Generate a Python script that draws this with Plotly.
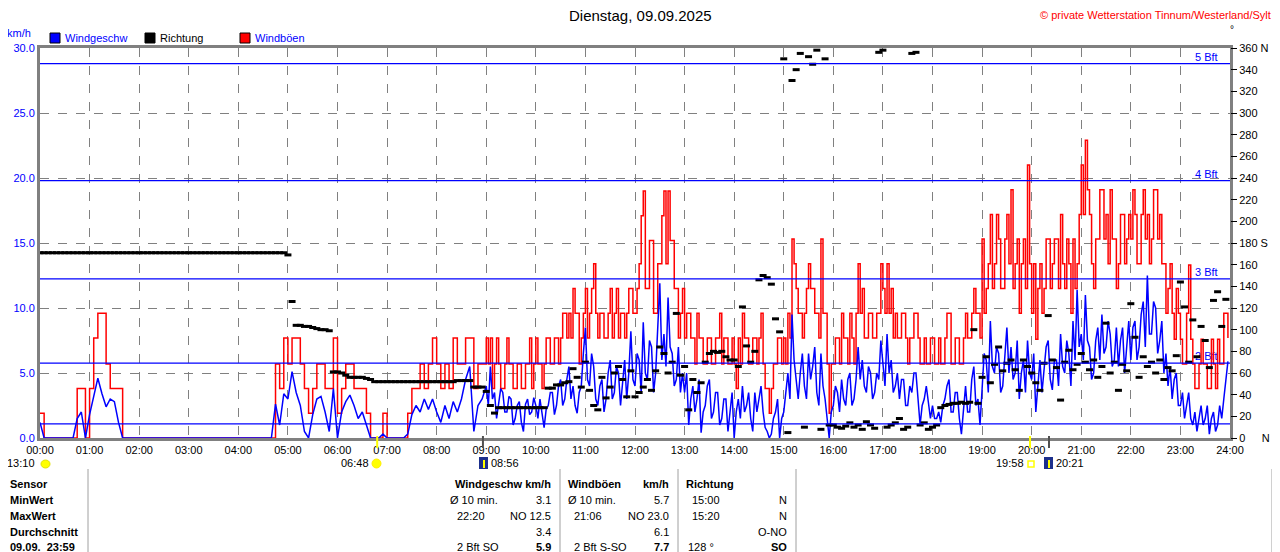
import numpy as np
import plotly.graph_objects as go

# 00:00 - 08:55, 5-minute values, one line per hour
wind_early = [
    1.2, 0, 0, 0, 0, 0, 0, 0, 0, 1.5, 2.0, 0,
    1.8, 3.2, 4.6, 3.4, 2.4, 3.0, 2.8, 1.2, 0, 0, 0, 0,
    0, 0, 0, 0, 0, 0, 0, 0, 0, 0, 0, 0,
    0, 0, 0, 0, 0, 0, 0, 0, 0, 0, 0, 0,
    0, 0, 0, 0, 0, 0, 0, 0, 0, 2.6, 1.0, 3.4,
    3.0, 5.1, 3.5, 2.5, 0.5, 0, 1.8, 3.0, 3.2, 2.0, 0.5, 3.8,
    0, 2.0, 2.8, 3.3, 2.5, 1.5, 2.0, 1.0, 0, 0, 0, 0.3,
    0, 0, 0, 0, 0, 0.3, 1.8, 2.5, 2.0, 3.0, 2.2, 3.0,
    2.0, 1.2, 2.5, 1.5, 2.8, 2.0, 3.0, 4.5, 5.5, 0.5, 2.5, 3.0,
]
gust_early = [
    1.9, 0, 0, 0, 0, 0, 0, 0, 0, 3.8, 3.8, 0,
    3.8, 7.7, 9.6, 9.6, 5.7, 3.8, 3.8, 3.8, 0, 0, 0, 0,
    0, 0, 0, 0, 0, 0, 0, 0, 0, 0, 0, 0,
    0, 0, 0, 0, 0, 0, 0, 0, 0, 0, 0, 0,
    0, 0, 0, 0, 0, 0, 0, 0, 0, 5.7, 3.8, 7.7,
    5.7, 7.7, 7.7, 5.7, 3.8, 1.9, 3.8, 5.7, 5.7, 3.8, 3.8, 7.7,
    1.9, 3.8, 5.7, 5.7, 3.8, 3.8, 3.8, 1.9, 0, 0, 0, 1.9,
    0, 0, 0, 0, 0, 1.9, 3.8, 3.8, 5.7, 3.8, 5.7, 7.7,
    5.7, 3.8, 5.7, 3.8, 7.7, 5.7, 5.7, 7.7, 7.7, 3.8, 5.7, 5.7,
]

# 09:00 - 23:57.5, 2.5-minute values, one line per hour
wind_late = [
    4.0, 2.5, 5.5, 3.0, 3.5, 1.5, 2.5, 3.8, 3.5, 2.0, 2.0, 3.2, 3.0, 1.0, 1.5, 2.5, 2.8, 1.2, 0.5, 2.6, 3.0, 1.8, 2.0, 3.1,
    2.5, 1.5, 3.0, 2.0, 0.8, 2.2, 2.5, 3.5, 3.5, 1.8, 2.5, 4.0, 4.5, 2.5, 3.0, 4.5, 5.5, 3.0, 4.0, 2.5, 1.9, 3.5, 4.0, 6.5,
    8.5, 4.5, 4.0, 6.5, 5.5, 3.0, 2.5, 4.0, 4.5, 2.0, 3.0, 5.0, 6.0, 3.0, 3.5, 5.5, 5.0, 2.5, 4.0, 6.0, 3.0, 5.0, 8.2, 4.5,
    4.0, 6.5, 6.0, 3.5, 8.9, 5.0, 4.5, 7.5, 7.0, 3.5, 5.0, 8.0, 11.9, 6.0, 8.0, 5.5, 10.8, 7.0, 6.5, 4.0, 4.5, 7.0, 3.5, 5.0,
    3.5, 5.0, 1.0, 3.0, 4.0, 2.0, 3.0, 4.5, 0.4, 2.0, 2.5, 4.0, 4.5, 1.5, 2.0, 3.5, 3.5, 1.0, 1.5, 3.0, 3.0, 0.5, 2.0, 3.5,
    0, 2.0, 3.0, 1.5, 4.0, 2.0, 2.5, 3.5, 1.5, 0.5, 3.5, 2.0, 3.0, 4.0, 2.0, 0.8, 0.5, 0, 0.3, 1.5, 2.0, 3.0, 0, 1.5,
    2.0, 3.5, 5.0, 3.0, 9.5, 6.0, 4.5, 3.0, 5.0, 6.5, 4.0, 3.0, 6.5, 4.5, 5.5, 7.0, 3.5, 2.5, 6.5, 4.0, 3.0, 1.5, 0, 2.0,
    2.5, 4.0, 3.5, 2.0, 4.5, 3.0, 2.5, 4.5, 5.0, 2.5, 3.0, 4.5, 7.0, 4.5, 6.0, 4.0, 3.5, 5.5, 5.0, 3.0, 3.5, 5.0, 4.5, 7.5,
    5.5, 4.0, 8.0, 5.0, 6.0, 3.5, 4.0, 5.0, 3.0, 4.5, 4.5, 2.5, 2.5, 4.0, 3.5, 5.0, 5.0, 3.0, 1.0, 2.5, 3.0, 4.0, 2.5, 1.5,
    2.5, 1.5, 1.5, 2.0, 1.2, 2.5, 3.0, 4.0, 4.5, 2.0, 2.0, 3.5, 3.5, 1.5, 0.3, 2.5, 4.0, 2.0, 2.0, 4.5, 5.5, 2.5, 3.0, 1.0,
    4.0, 6.5, 6.0, 3.5, 9.0, 5.5, 5.0, 7.0, 6.5, 3.5, 4.0, 6.0, 8.5, 5.0, 7.0, 4.5, 5.0, 7.5, 3.0, 5.0, 6.0, 3.5, 7.5, 5.0,
    4.5, 6.5, 2.0, 4.0, 6.0, 3.5, 5.0, 7.0, 7.5, 4.5, 3.7, 6.0, 6.0, 4.0, 8.0, 5.5, 5.0, 7.5, 6.5, 4.0, 9.0, 6.0, 11.4, 7.0,
    8.0, 6.0, 11.0, 7.5, 7.0, 4.5, 5.0, 7.5, 8.5, 6.0, 9.5, 6.5, 7.0, 9.0, 8.0, 5.5, 6.0, 8.5, 5.5, 7.5, 8.5, 5.0, 7.0, 9.0,
    6.0, 8.5, 9.0, 6.0, 7.0, 9.5, 10.5, 7.0, 12.5, 8.0, 8.0, 10.5, 10.0, 6.5, 7.5, 9.0, 5.0, 6.5, 4.0, 5.5, 3.0, 4.5, 5.0, 2.5,
    2.5, 3.5, 1.5, 2.5, 3.5, 1.5, 1.0, 2.0, 0.5, 1.5, 2.5, 1.0, 1.5, 2.5, 0.3, 1.5, 2.0, 0.5, 1.0, 2.5, 1.5, 3.0, 4.5, 5.9,
]
gust_late = [
    7.7, 5.7, 7.7, 3.8, 5.7, 7.7, 5.7, 3.8, 3.8, 5.7, 7.7, 5.7, 5.7, 3.8, 3.8, 5.7, 5.7, 3.8, 3.8, 5.7, 5.7, 7.7, 3.8, 5.7,
    7.7, 5.7, 5.7, 3.8, 5.7, 7.7, 7.7, 5.7, 5.7, 7.7, 7.7, 5.7, 7.7, 9.6, 9.6, 7.7, 9.6, 7.7, 11.5, 9.6, 9.6, 5.7, 7.7, 9.6,
    11.5, 7.7, 9.6, 11.5, 13.4, 9.6, 7.7, 9.6, 9.6, 7.7, 7.7, 9.6, 11.5, 7.7, 9.6, 11.5, 7.7, 9.6, 9.6, 7.7, 9.6, 11.5, 11.5, 9.6,
    9.6, 11.5, 13.4, 17.1, 19.0, 11.5, 11.5, 15.2, 15.2, 9.6, 9.6, 13.4, 13.4, 17.1, 19.0, 13.4, 19.0, 15.2, 15.2, 11.5, 11.5, 7.7, 9.6, 11.5,
    7.7, 9.6, 9.6, 7.7, 7.7, 5.7, 9.6, 7.7, 7.7, 5.7, 5.7, 7.7, 7.7, 5.7, 5.7, 7.7, 7.7, 9.6, 5.7, 7.7, 7.7, 5.7, 5.7, 7.7,
    5.7, 3.8, 7.7, 5.7, 9.6, 7.7, 7.7, 5.7, 5.7, 7.7, 7.7, 5.7, 7.7, 9.6, 5.7, 3.8, 3.8, 1.9, 3.8, 5.7, 5.7, 7.7, 7.7, 5.7,
    7.7, 5.7, 9.6, 7.7, 15.3, 13.4, 11.5, 9.6, 9.6, 7.7, 9.6, 11.5, 13.4, 11.5, 11.5, 9.6, 9.6, 7.7, 15.3, 9.6, 9.6, 5.7, 1.9, 5.7,
    5.7, 7.7, 7.7, 5.7, 9.6, 7.7, 7.7, 5.7, 9.6, 7.7, 5.7, 9.6, 13.4, 9.6, 11.5, 7.7, 7.7, 9.6, 9.6, 7.7, 7.7, 9.6, 9.6, 13.4,
    11.5, 9.6, 13.4, 9.6, 11.5, 7.7, 9.6, 7.7, 7.7, 9.6, 9.6, 7.7, 5.7, 7.7, 7.7, 9.6, 9.6, 7.7, 5.7, 5.7, 7.7, 5.7, 5.7, 7.7,
    7.7, 5.7, 5.7, 7.7, 5.7, 5.7, 7.7, 9.6, 9.6, 5.7, 5.7, 7.7, 7.7, 5.7, 5.7, 7.7, 9.6, 7.7, 7.7, 9.6, 11.5, 9.6, 9.6, 7.7,
    15.3, 9.6, 11.5, 13.4, 17.2, 11.5, 13.4, 17.2, 15.3, 11.5, 11.5, 15.3, 17.2, 13.4, 19.1, 11.5, 13.4, 15.3, 9.6, 13.4, 15.3, 11.5, 21.0, 13.4,
    9.6, 13.4, 7.6, 11.5, 13.4, 9.6, 11.5, 15.3, 15.3, 11.5, 13.4, 15.3, 15.3, 11.5, 17.2, 13.4, 11.5, 15.3, 13.4, 9.6, 15.3, 11.5, 13.4, 17.2,
    21.0, 17.2, 22.9, 19.1, 17.2, 13.4, 11.5, 15.3, 15.3, 19.1, 19.1, 15.3, 17.2, 13.4, 19.1, 15.3, 15.3, 11.5, 13.4, 17.2, 17.2, 13.4, 15.3, 17.2,
    15.3, 19.1, 17.2, 13.4, 13.4, 17.2, 19.1, 15.3, 17.2, 13.4, 15.3, 19.1, 19.1, 15.3, 17.2, 13.4, 13.4, 9.6, 11.5, 13.4, 9.6, 7.6, 11.5, 9.6,
    7.6, 5.7, 5.7, 9.6, 13.3, 7.6, 5.7, 3.8, 3.8, 5.7, 7.6, 5.7, 5.7, 3.8, 3.8, 7.6, 5.7, 3.8, 7.6, 5.7, 5.7, 9.6, 9.6, 7.7,
]

# wind direction, 5-minute values 00:00 - 23:55
direction_deg = [
    171, 171, 171, 171, 171, 171, 171, 171, 171, 171, 171, 171,
    171, 171, 171, 171, 171, 171, 171, 171, 171, 171, 171, 171,
    171, 171, 171, 171, 171, 171, 171, 171, 171, 171, 171, 171,
    171, 171, 171, 171, 171, 171, 171, 171, 171, 171, 171, 171,
    171, 171, 171, 171, 171, 171, 171, 171, 171, 171, 171, 171,
    169, 126, 104, 104, 103, 103, 102, 101, 100, 100, 99, 61,
    61, 60, 58, 56, 56, 56, 56, 55, 54, 52, 52, 52,
    52, 52, 52, 52, 52, 52, 52, 52, 52, 52, 52, 52,
    52, 52, 52, 52, 52, 53, 53, 53, 53, 47, 47, 47,
    43, 30, 23, 28, 28, 28, 28, 28, 28, 28, 28, 28,
    28, 28, 28, 46, 46, 49, 49, 51, 52, 64, 56, 47,
    70, 44, 30, 26, 56, 37, 47, 60, 66, 54, 38, 62,
    38, 42, 47, 54, 44, 62, 84, 78, 60, 70, 115, 58,
    66, 26, 54, 42, 51, 70, 78, 80, 79, 80, 75, 72,
    72, 66, 121, 85, 70, 80, 146, 150, 148, 142, 110, 98,
    350, 5, 330, 340, 355, 10, 352, 345, 358, 8, 350, 12,
    12, 10, 9, 11, 14, 10, 12, 8, 15, 12, 9, 356,
    358, 10, 12, 14, 18, 8, 10, 355, 356, 12, 14, 8,
    10, 12, 28, 30, 31, 32, 32, 33, 32, 33, 100, 32,
    56, 75, 51, 68, 84, 62, 69, 72, 63, 44, 72, 66,
    60, 51, 44, 69, 113, 72, 65, 35, 70, 81, 63, 68,
    78, 70, 63, 72, 56, 66, 106, 60, 70, 44, 68, 62,
    124, 93, 56, 75, 66, 70, 60, 72, 54, 65, 62, 76,
    144, 121, 70, 109, 75, 103, 90, 65, 127, 135, 103, 128,
]

bft_levels = [1.08, 5.76, 12.24, 19.8, 28.8]
bft_labels = ["", "2 Bft", "3 Bft", "4 Bft", "5 Bft"]

hour_labels = ["%02d:00" % h for h in range(25)]
dir_ticks = list(range(0, 361, 20))
dir_labels = ["0\u2002\u2002\u2002N" if d == 0 else "180 S" if d == 180 else "360 N" if d == 360 else str(d)
              for d in dir_ticks]

# sun / moon events (hour)
ev_sunrise = 6 + 48 / 60
ev_moonrise_icon = 8 + 56 / 60
ev_sunset = 19 + 58 / 60
ev_moon2 = 20 + 21 / 60

t_speed = np.concatenate([np.arange(len(wind_early)) * 5, 540 + np.arange(len(wind_late)) * 2.5]) / 60
wind_kmh = wind_early + wind_late
gust_kmh = gust_early + gust_late
t_dir = np.arange(len(direction_deg)) * 5 / 60

FONT = "Liberation Sans"
BLUE = "#0000ff"
GREY = "#808080"
FS = 11


# pixel -> paper helpers (plot area on screen is x 40..1230, y 48..438)
def px(x):
    return (x - 40) / 1190


def py(y):
    return (438 - y) / 390


fig = go.Figure()

# Bft labels under the data
fig.add_trace(go.Scatter(
    x=[23.75] * len(bft_levels), y=bft_levels, text=bft_labels, mode="text",
    textposition="top left", textfont=dict(family=FONT, size=FS, color=BLUE),
    hoverinfo="skip", showlegend=False))

fig.add_trace(go.Scatter(
    x=t_speed, y=gust_kmh, mode="lines", line=dict(color="#ff0000", width=1.5, shape="hv"),
    name="Windböen", showlegend=False))
fig.add_trace(go.Scatter(
    x=t_speed, y=wind_kmh, mode="lines", line=dict(color=BLUE, width=1.5),
    name="Windgeschw", showlegend=False))
fig.add_trace(go.Scatter(
    x=t_dir, y=direction_deg, yaxis="y2", mode="markers",
    marker=dict(symbol="line-ew", size=5, line=dict(color="black", width=3)),
    name="Richtung", showlegend=False))

shapes = []
for lvl in bft_levels:
    shapes.append(dict(type="line", xref="paper", yref="y", x0=0, x1=1, y0=lvl, y1=lvl,
                       line=dict(color=BLUE, width=1.2), layer="above"))

# legend squares
for xl, col in [(50, BLUE), (145, "black"), (240, "#ff0000")]:
    shapes.append(dict(type="rect", xref="paper", yref="paper", x0=px(xl), x1=px(xl + 10),
                       y0=py(43), y1=py(33), fillcolor=col, line=dict(color="black", width=1)))

# event marks on the time axis
for h, col in [(ev_sunrise, "#ffff00"), (ev_moonrise_icon, "#505050"), (ev_sunset, "#ffff00"), (ev_moon2, "#505050")]:
    shapes.append(dict(type="line", xref="x", yref="paper", x0=h, x1=h, y0=py(436), y1=py(448),
                       line=dict(color=col, width=2)))

# event icons
shapes.append(dict(type="circle", xref="paper", yref="paper", x0=px(41), x1=px(50), y0=py(468), y1=py(460),
                   fillcolor="#ffff00", line=dict(color="#e0e000", width=1)))
shapes.append(dict(type="circle", xref="paper", yref="paper", x0=px(372), x1=px(381), y0=py(468), y1=py(459),
                   fillcolor="#ffff00", line=dict(color="#ffee00", width=1)))
shapes.append(dict(type="rect", xref="paper", yref="paper", x0=px(1028), x1=px(1034), y0=py(467), y1=py(461),
                   fillcolor="white", line=dict(color="#ffff00", width=1.5)))
for xi in (479, 1044):
    shapes.append(dict(type="rect", xref="paper", yref="paper", x0=px(xi), x1=px(xi + 9), y0=py(469), y1=py(457),
                       fillcolor="#1c2f8c", line=dict(width=0)))
    shapes.append(dict(type="line", xref="paper", yref="paper", x0=px(xi + 5), x1=px(xi + 5), y0=py(468), y1=py(460),
                       line=dict(color="#ffff00", width=2)))

# table separators
for xs in (88, 560, 678, 796, 1272):
    shapes.append(dict(type="line", xref="paper", yref="paper", x0=px(xs), x1=px(xs), y0=py(469), y1=py(552),
                       line=dict(color="#a0a0a0", width=1)))

# cut-off edge of the neighbouring panel at the right border
shapes.append(dict(type="line", xref="paper", yref="paper", x0=px(1272), x1=px(1282), y0=py(56), y1=py(56),
                   line=dict(color=GREY, width=3)))
for yb in (79, 307, 499):
    shapes.append(dict(type="line", xref="paper", yref="paper", x0=px(1272), x1=px(1282), y0=py(yb), y1=py(yb),
                       line=dict(color=BLUE, width=1)))
for yg in (175, 301, 410):
    shapes.append(dict(type="line", xref="paper", yref="paper", x0=px(1272), x1=px(1280), y0=py(yg), y1=py(yg),
                       line=dict(color=GREY, width=1, dash="dot")))
shapes.append(dict(type="line", xref="paper", yref="paper", x0=px(1273), x1=px(1276), y0=py(60), y1=py(60),
                   line=dict(color="black", width=2)))

ann = []


def text(x, y, s, anchor="left", color="black", size=FS, bold=False):
    ann.append(dict(xref="paper", yref="paper", x=px(x), y=py(y), text=("<b>%s</b>" % s) if bold else s,
                    showarrow=False, xanchor=anchor, yanchor="middle",
                    font=dict(family=FONT, size=size, color=color)))


text(640, 15, "Dienstag, 09.09.2025", "center", size=15)
text(1273, 15, "© private Wetterstation Tinnum/Westerland/Sylt", "right", color="#ff0000", size=11)
text(1232, 30, "°", "center", size=10)
text(5, 33, "km/h", color=BLUE)
text(63, 38, "Windgeschw", color=BLUE)
text(158, 38, "Richtung")
text(253, 38, "Windböen", color=BLUE)

text(37, 463, "13:10", "right")
text(371, 463, "06:48", "right")
text(489, 463, "08:56")
text(1026, 463, "19:58", "right")
text(1054, 463, "20:21")

rows = [484, 500, 516, 532, 547]
for y, s in zip(rows, ["Sensor", "MinWert", "MaxWert", "Durchschnitt", "09.09.  23:59"]):
    text(8, y, s, bold=True)

text(553, rows[0], "Windgeschw km/h", "right", bold=True)
text(448, rows[1], "Ø 10 min.")
text(553, rows[1], "3.1", "right")
text(455, rows[2], "22:20")
text(553, rows[2], "NO 12.5", "right")
text(553, rows[3], "3.4", "right")
text(455, rows[4], "2 Bft SO")
text(553, rows[4], "5.9", "right", bold=True)

text(566, rows[0], "Windböen", bold=True)
text(671, rows[0], "km/h", "right", bold=True)
text(566, rows[1], "Ø 10 min.")
text(671, rows[1], "5.7", "right")
text(572, rows[2], "21:06")
text(671, rows[2], "NO 23.0", "right")
text(671, rows[3], "6.1", "right")
text(572, rows[4], "2 Bft S-SO")
text(671, rows[4], "7.7", "right", bold=True)

text(684, rows[0], "Richtung", bold=True)
text(690, rows[1], "15:00")
text(789, rows[1], "N", "right")
text(690, rows[2], "15:20")
text(789, rows[2], "N", "right")
text(789, rows[3], "O-NO", "right")
text(686, rows[4], "128 °")
text(789, rows[4], "SO", "right", bold=True)

# the page puts the figure 8 px in from the top-left corner, so the figure is
# 8 px smaller and the margins are 8 px tighter than the screen positions
fig.update_layout(
    width=1272, height=544,
    margin=dict(l=32, r=50, t=40, b=114, autoexpand=False),
    paper_bgcolor="white", plot_bgcolor="white",
    font=dict(family=FONT, size=FS, color="black"),
    shapes=shapes, annotations=ann,
    xaxis=dict(range=[0, 24], tickvals=list(range(25)), ticktext=hour_labels, automargin=False,
               showgrid=True, gridcolor=GREY, griddash="dash", gridwidth=1,
               showline=True, linecolor=GREY, linewidth=3, mirror=True,
               ticks="", zeroline=False, tickfont=dict(size=FS)),
    yaxis=dict(range=[0, 30], tickvals=[0, 5, 10, 15, 20, 25, 30], tickformat=".1f", automargin=False,
               showgrid=True, gridcolor=GREY, griddash="dash", gridwidth=1,
               showline=True, linecolor=GREY, linewidth=3, mirror=True,
               ticks="", zeroline=False, tickfont=dict(color=BLUE, size=FS)),
    yaxis2=dict(range=[0, 360], overlaying="y", side="right", tickvals=dir_ticks, ticktext=dir_labels,
                automargin=False, showgrid=False, zeroline=False, ticks="outside", ticklen=6,
                tickcolor="black", tickfont=dict(size=FS)),
)

fig.write_html("out.html")
